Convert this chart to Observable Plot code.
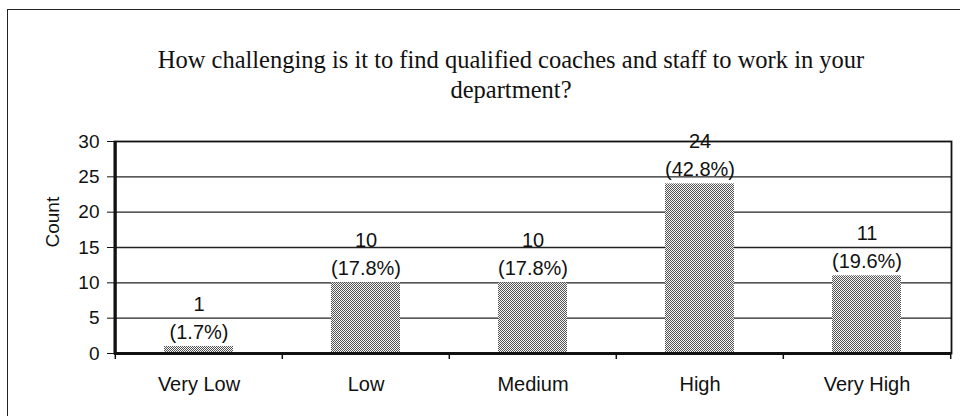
<!DOCTYPE html>
<html>
<head>
<meta charset="utf-8">
<script src="https://cdn.jsdelivr.net/npm/d3@7"></script>
<script src="https://cdn.jsdelivr.net/npm/@observablehq/plot@0.6"></script>
<style>
  html, body { margin: 0; padding: 0; background: #fff; overflow: hidden; }
  #wrap { position: relative; width: 960px; height: 416px; overflow: hidden; }
  #box { position: absolute; left: 7px; top: 9px; width: 1100px; height: 600px; border: 1.5px solid #222; box-sizing: border-box; }
  #title { position: absolute; left: 7px; width: 1008px; top: 45px; text-align: center;
           font-family: "Liberation Serif", "Times New Roman", serif; font-size: 24.5px; line-height: 30px; color: #111; }
  #chart { position: absolute; left: 0; top: 0; }
</style>
</head>
<body>
<div id="wrap">
  <div id="box"></div>
  <div id="title">How challenging is it to find qualified coaches and staff to work in your<br>department?</div>
  <div id="chart"></div>
</div>
<script>
const categories = ["Very Low", "Low", "Medium", "High", "Very High"];
const counts = [1, 10, 10, 24, 11];
const percents = ["(1.7%)", "(17.8%)", "(17.8%)", "(42.8%)", "(19.6%)"];
const yTicks = [0, 5, 10, 15, 20, 25, 30];
const gridLines = [5, 10, 15, 20, 25];

const data = categories.map((c, i) => ({category: c, count: counts[i], pct: percents[i]}));

const W = 960, H = 416, mL = 114, mR = 9, mT = 141, mB = 63;
const step = (W - mL - mR) / categories.length;
const plotH = H - mT - mB;

const chart = Plot.plot({
  width: W,
  height: H,
  marginLeft: mL,
  marginRight: mR,
  marginTop: mT,
  marginBottom: mB,
  style: {fontFamily: "'Liberation Sans', Arial, sans-serif", fontSize: "20px", color: "#111", background: "transparent"},
  x: {type: "band", domain: categories, padding: 0, label: null},
  y: {domain: [0, 30], ticks: yTicks, label: null},
  marks: [
    Plot.ruleY(gridLines, {stroke: "#222", strokeWidth: 1.4}),
    Plot.barY(data, {x: "category", y: "count", fill: "url(#dither)", insetLeft: 49, insetRight: 49}),
    Plot.frame({stroke: "#111", strokeWidth: 1.8}),
    Plot.ruleY([0], {stroke: "#111", strokeWidth: 3}),
    Plot.ruleX(categories.slice(0, 1), {x: d => d, dx: -step / 2, stroke: "#111", strokeWidth: 3}),
    Plot.ruleX(categories, {x: d => d, dx: -step / 2, insetTop: plotH, insetBottom: -6, stroke: "#111", strokeWidth: 1.5}),
    Plot.ruleX(categories.slice(-1), {x: d => d, dx: step / 2, insetTop: plotH, insetBottom: -6, stroke: "#111", strokeWidth: 1.5}),
    Plot.axisY({ticks: yTicks, tickSize: 7, tickPadding: 8, tickFormat: d => String(d), fontSize: 19, stroke: "#111"}),
    Plot.axisX({tickSize: 0, tickPadding: 23, fontSize: 20}),
    Plot.text(data, {x: "category", y: "count", text: d => String(d.count), dy: -42, fontSize: 20, fill: "#111"}),
    Plot.text(data, {x: "category", y: "count", text: "pct", dy: -14, fontSize: 20, fill: "#111"}),
    Plot.text(["Count"], {frameAnchor: "left", dx: 52 - mL, rotate: -90, fontSize: 19, fill: "#111"})
  ]
});

// dithered gray fill like the reference's stippled bars
const defs = d3.select(chart).insert("defs", ":first-child");
const pat = defs.append("pattern").attr("id", "dither").attr("patternUnits", "userSpaceOnUse")
  .attr("width", 2).attr("height", 2);
pat.append("rect").attr("width", 2).attr("height", 2).attr("fill", "#f4f4f4");
pat.append("rect").attr("x", 0).attr("y", 0).attr("width", 1).attr("height", 1).attr("fill", "#555");
pat.append("rect").attr("x", 1).attr("y", 1).attr("width", 1).attr("height", 1).attr("fill", "#555");

document.getElementById("chart").appendChild(chart);
</script>
</body>
</html>
